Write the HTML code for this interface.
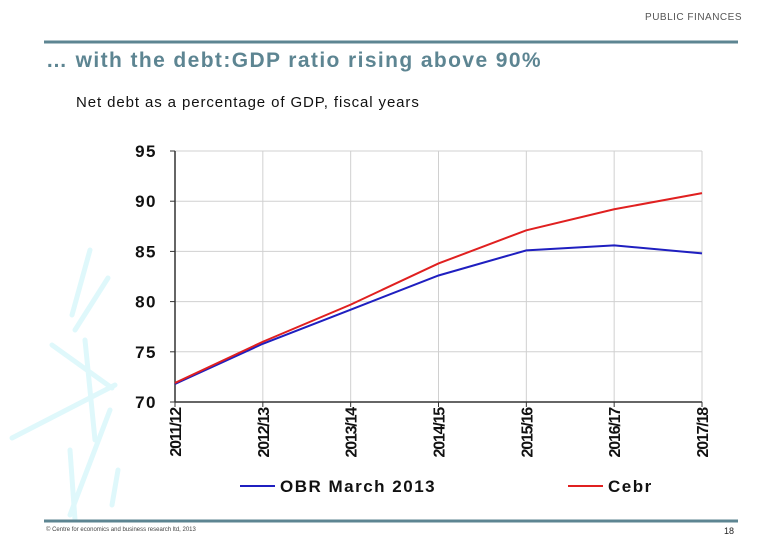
<!DOCTYPE html>
<html><head><meta charset="utf-8"><style>
body{margin:0;background:#fff;font-family:"Liberation Sans",sans-serif;}
#root{position:relative;width:780px;height:540px;overflow:hidden;background:#fff}
.t{position:absolute;white-space:nowrap}
</style></head><body>
<div id="root">
<svg width="780" height="540" style="position:absolute;left:0;top:0">
<g stroke="#dff8fb" stroke-width="5" stroke-linecap="round">
<line x1="90" y1="250" x2="72" y2="315"/><line x1="108" y1="278" x2="75" y2="330"/>
<line x1="52" y1="345" x2="112" y2="388"/><line x1="85" y1="340" x2="95" y2="440"/>
<line x1="12" y1="438" x2="115" y2="385"/><line x1="110" y1="410" x2="70" y2="515"/>
<line x1="70" y1="450" x2="75" y2="520"/><line x1="118" y1="470" x2="112" y2="505"/>
</g>
<line x1="44" y1="42" x2="738" y2="42" stroke="#5d8592" stroke-width="3"/>
<line x1="44" y1="521" x2="738" y2="521" stroke="#5d8592" stroke-width="3"/>
<g id="chart"></g>
</svg>
<div class="t" style="right:38px;top:12px;font-size:10px;color:#555;letter-spacing:0.5px">PUBLIC FINANCES</div>
<div class="t" style="left:46px;top:49px;font-size:21px;font-weight:bold;color:#5d8592;letter-spacing:1.4px">… with the debt:GDP ratio rising above 90%</div>
<div class="t" style="left:76px;top:94px;font-size:15px;color:#111;letter-spacing:0.9px">Net debt as a percentage of GDP, fiscal years</div>
<div class="t" style="left:46px;top:527px;font-size:6px;color:#444">© Centre for economics and business research ltd, 2013</div>
<div class="t" style="left:724px;top:526px;font-size:9px;color:#222">18</div>
</div>
<script>
const categories=["2011/12","2012/13","2013/14","2014/15","2015/16","2016/17","2017/18"];
const obrValues=[71.8,75.8,79.2,82.6,85.1,85.6,84.8];
const cebrValues=[71.9,76.0,79.7,83.8,87.1,89.2,90.8];
const yTicks=[70,75,80,85,90,95];
const NS="http://www.w3.org/2000/svg";
const g=document.getElementById('chart');
const X0=175,X1=702,Y0=402,Y1=151;
function xs(i){return X0+(X1-X0)*i/(categories.length-1);}
function ys(v){return Y0-(v-70)/(95-70)*(Y0-Y1);}
function mk(tag,attrs){const e=document.createElementNS(NS,tag);for(const k in attrs)e.setAttribute(k,attrs[k]);g.appendChild(e);return e;}
yTicks.forEach(v=>{
 const l=mk('line',{x1:X0,x2:X1,y1:ys(v),y2:ys(v),stroke:'#d0d0d0','stroke-width':1});
 
 
 const t=mk('text',{x:157,y:ys(v)+6,'text-anchor':'end','font-size':17,'font-weight':'bold',fill:'#111','font-family':'Liberation Sans','letter-spacing':'1.5'});
 t.textContent=v;
 
 
 mk('line',{x1:X0-5,x2:X0,y1:ys(v),y2:ys(v),stroke:'#333'});
});
categories.forEach((c,i)=>{
 if(i>0){const l=mk('line',{x1:xs(i),x2:xs(i),y1:Y1,y2:Y0,stroke:'#d0d0d0'});
 
 }
 mk('line',{x1:xs(i),x2:xs(i),y1:Y0,y2:Y0+5,stroke:'#333'});
 const t=mk('text',{x:0,y:0,'text-anchor':'end','font-size':16,'font-weight':'bold',fill:'#111','font-family':'Liberation Sans','letter-spacing':'-1.2',transform:`translate(${xs(i)+6},${Y0+6}) rotate(-90)`});
 t.textContent=c;
 
 
});
mk('line',{x1:X0,x2:X0,y1:Y1,y2:Y0,stroke:'#333','stroke-width':1.5});
mk('line',{x1:X0,x2:X1,y1:Y0,y2:Y0,stroke:'#333','stroke-width':1.5});
function series(vals,color,name){
 const p=mk('polyline',{points:vals.map((v,i)=>xs(i)+','+ys(v)).join(' '),fill:'none',stroke:color,'stroke-width':2});
 
 
}
series(obrValues,'#1f1fc0','obr-line');
series(cebrValues,'#e02020','cebr-line');
function legend(x,color,label,name){
 mk('line',{x1:x,x2:x+35,y1:486,y2:486,stroke:color,'stroke-width':2});
 const t=mk('text',{x:x+40,y:492,'font-size':17,'font-weight':'bold',fill:'#111','font-family':'Liberation Sans','letter-spacing':'1.5'});
 t.textContent=label;
 
 
}
legend(240,'#1f1fc0','OBR March 2013','legend-obr');
legend(568,'#e02020','Cebr','legend-cebr');
</script>
</body></html>
